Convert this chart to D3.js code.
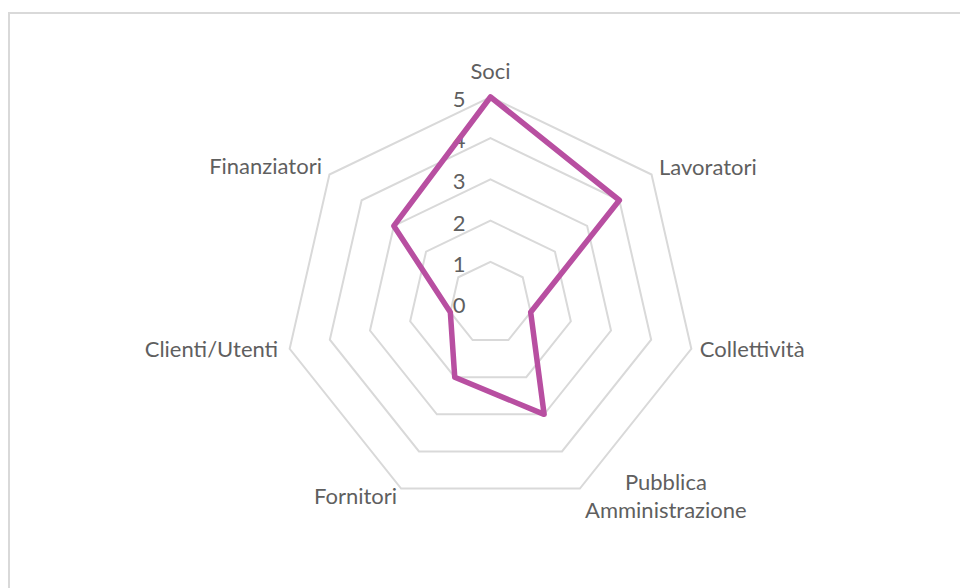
<!DOCTYPE html>
<html>
<head>
<meta charset="utf-8">
<script src="https://cdn.jsdelivr.net/npm/d3@7"></script>
<style>
  html, body { margin: 0; padding: 0; background: #ffffff; }
  svg { display: block; }
  text { font-family: Lato, "Noto Sans", sans-serif; fill: #5f5f5f; }
</style>
</head>
<body>
<svg id="chart" width="960" height="588"></svg>
<script>
// ---- data ----
const categories = ["Soci", "Lavoratori", "Collettività", "Pubblica Amministrazione", "Fornitori", "Clienti/Utenti", "Finanziatori"];
const values = [5, 4, 1, 3, 2, 1, 3];
const tickValues = [0, 1, 2, 3, 4, 5];
const gridLevels = [1, 2, 3, 4, 5];

// ---- layout ----
const cx = 490.5, cy = 303;
const R = 206;
const fontSize = 22;
// label placement relative to the outer ring vertex: [dx, dy(baseline), anchor]
const labelLayout = [
  [0, -18, "middle"],
  [7.5, 0.5, "start"],
  [8.5, 8, "start"],
  [86, 1.5, "middle"],
  [-4, 15.5, "end"],
  [-11.5, 8, "end"],
  [-7.5, -0.5, "end"]
];

const svg = d3.select("#chart");

// chart area border (extends beyond right/bottom of the view)
svg.append("rect")
  .attr("x", 9).attr("y", 13)
  .attr("width", 1000).attr("height", 700)
  .attr("fill", "#ffffff")
  .attr("stroke", "#d9d9d9")
  .attr("stroke-width", 2);

const r = d3.scaleLinear().domain([0, 5]).range([0, R]);
const angle = d3.scalePoint().domain(categories).range([0, 2 * Math.PI * (categories.length - 1) / categories.length]);

const g = svg.append("g").attr("transform", `translate(${cx},${cy})`);

const radial = d3.lineRadial()
  .angle(d => angle(d.cat))
  .radius(d => r(d.v))
  .curve(d3.curveLinearClosed);

// grid rings
g.selectAll("path.ring")
  .data(gridLevels)
  .join("path")
  .attr("class", "ring")
  .attr("d", lvl => radial(categories.map(c => ({cat: c, v: lvl}))))
  .attr("fill", "none")
  .attr("stroke", "#d9d9d9")
  .attr("stroke-width", 2);

// tick labels on the first axis
g.selectAll("text.tick")
  .data(tickValues)
  .join("text")
  .attr("class", "tick")
  .attr("x", -25)
  .attr("y", d => -r(d) + 1.5)
  .attr("text-anchor", "end")
  .attr("dominant-baseline", "central")
  .attr("font-size", fontSize)
  .text(d => d);

// data series
g.append("path")
  .datum(categories.map((c, i) => ({cat: c, v: values[i]})))
  .attr("d", radial)
  .attr("fill", "none")
  .attr("stroke", "#b84fa1")
  .attr("stroke-width", 5.5)
  .attr("stroke-linejoin", "round");

// category labels
categories.forEach((c, i) => {
  const a = angle(c);
  const vx = r(5) * Math.sin(a);
  const vy = -r(5) * Math.cos(a);
  const [dx, dy, anchor] = labelLayout[i];
  const lines = c === "Pubblica Amministrazione" ? ["Pubblica", "Amministrazione"] : [c];
  const t = g.append("text")
    .attr("font-size", fontSize)
    .attr("text-anchor", anchor);
  lines.forEach((ln, k) => {
    t.append("tspan").attr("x", vx + dx).attr("y", vy + dy + k * 28).text(ln);
  });
});
</script>
</body>
</html>
